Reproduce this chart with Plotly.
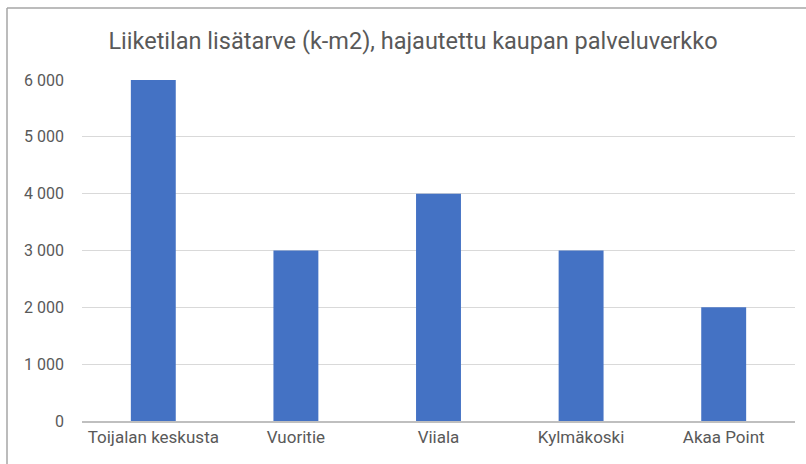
import plotly.graph_objects as go

categories = ["Toijalan keskusta", "Vuoritie", "Viiala", "Kylmäkoski", "Akaa Point"]
values = [6000, 3000, 4000, 3000, 2000]
tick_vals = [0, 1000, 2000, 3000, 4000, 5000, 6000]
tick_text = ["0", "1 000", "2 000", "3 000", "4 000", "5 000", "6 000"]
title = "Liiketilan lisätarve (k-m2), hajautettu kaupan palveluverkko"

FONT = "Roboto, Arial, sans-serif"
GREY = "#595959"

fig = go.Figure(go.Bar(x=categories, y=values, marker_color="#4472C4",
                       marker_line_width=0))

W, H = 806, 464
L, R, T, B = 82, 11, 80, 43
pw, ph = W - L - R, H - T - B

fig.update_layout(
    width=W, height=H,
    margin=dict(l=L, r=R, t=T, b=B, autoexpand=False),
    paper_bgcolor="white", plot_bgcolor="white",
    bargap=0.685,
    showlegend=False,
    title=dict(text=title, x=413 / W, xanchor="center", y=1 - 41 / H, yanchor="middle",
               font=dict(family=FONT, size=23.5, color=GREY)),
    font=dict(family=FONT, color=GREY),
    xaxis=dict(showgrid=False, showline=True, linecolor="#bfbfbf", linewidth=1.5,
               ticks="", automargin=False, tickfont=dict(size=17, color=GREY)),
    yaxis=dict(range=[0, 6000], tickvals=tick_vals, ticktext=tick_text,
               showgrid=True, gridcolor="#d9d9d9", gridwidth=1.3, zeroline=False,
               showline=False, ticks="", ticklabelstandoff=17, automargin=False,
               tickfont=dict(size=16, color=GREY)),
    shapes=[
        dict(type="line", xref="paper", yref="paper",
             x0=(7 - L) / pw, x1=1 + (R + 5) / pw, y0=1 + (T - 8) / ph, y1=1 + (T - 8) / ph,
             line=dict(color="#a6a6a6", width=1.5)),
        dict(type="line", xref="paper", yref="paper",
             x0=(7 - L) / pw, x1=(7 - L) / pw, y0=-(B + 5) / ph, y1=1 + (T - 8) / ph,
             line=dict(color="#a6a6a6", width=1.5)),
    ],
)

fig.write_html("out.html", config={"displayModeBar": False},
               post_script="document.body.style.margin='0';")
